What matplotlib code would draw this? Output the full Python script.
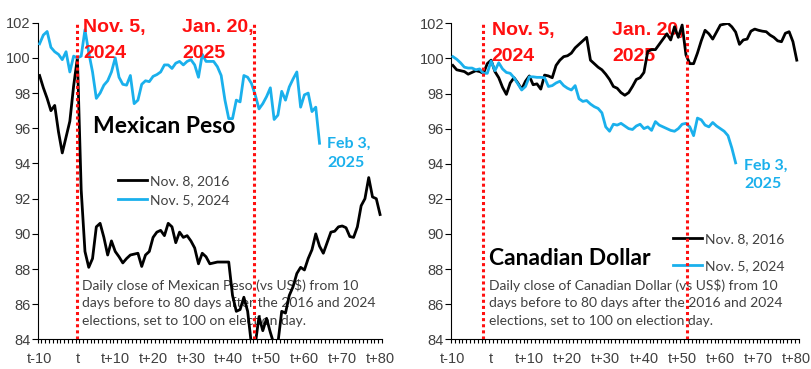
import matplotlib.pyplot as plt
import numpy as np

# x categories: t-10 ... t+80  (index 0 = t-10, index 10 = election day)
days = np.arange(91)
tick_pos = np.arange(0, 91, 10)
tick_labels = ['t-10', 't', 't+10', 't+20', 't+30', 't+40', 't+50', 't+60', 't+70', 't+80']

# Mexican peso, 2016 election (91 trading days)
mxn_2016 = [99.0, 98.3, 97.7, 97.0, 97.3, 95.8, 94.6, 95.5, 96.4, 98.4,
            100.0, 92.5, 89.0, 88.1, 88.6, 90.4, 90.6, 89.8, 88.8, 89.6,
            89.0, 88.7, 88.35, 88.6, 88.8, 88.85, 88.9, 88.15, 88.8, 89.0,
            89.8, 90.1, 90.2, 89.9, 90.6, 90.4, 89.5, 90.1, 89.8, 89.9,
            89.6, 89.2, 88.3, 88.9, 88.7, 88.3, 88.35, 88.4, 88.4, 88.4,
            88.4, 86.5, 85.6, 85.7, 86.4, 85.6, 83.7, 83.7, 85.3, 84.5,
            85.2, 84.4, 83.7, 83.8, 85.6, 85.5, 86.5, 87.0, 87.75, 88.1,
            87.95, 88.6, 89.1, 90.0, 89.3, 88.9, 89.5, 90.1, 90.15, 90.4,
            90.45, 90.35, 89.85, 89.8, 90.4, 91.6, 92.0, 93.2, 92.1, 92.0, 91.1]

# Mexican peso, 2024 election (up to Feb 3, 2025)
mxn_2024 = [100.8, 101.3, 101.5, 100.6, 100.35, 100.2, 99.9, 100.35, 99.2, 100.1,
            100.0, 100.1, 101.6, 100.3, 99.2, 97.7, 98.0, 98.45, 98.7, 99.2,
            100.0, 98.9, 98.5, 98.45, 99.0, 97.4, 97.6, 98.5, 98.7, 98.65,
            98.95, 99.05, 99.2, 99.6, 99.6, 99.4, 99.7, 99.8, 99.6, 99.8,
            99.9, 99.6, 98.9, 100.2, 99.8, 99.8, 99.8, 99.5, 99.0, 97.6,
            96.55, 96.55, 97.6, 97.5, 99.0, 98.9, 98.55, 97.9, 97.1, 97.4,
            97.8, 98.3, 96.5, 96.75, 98.1, 97.6, 98.35, 98.8, 99.2, 97.2,
            97.9, 98.0, 96.95, 97.2, 95.15]

# Canadian dollar, 2016 election
cad_2016 = [99.6, 99.35, 99.3, 99.25, 99.1, 99.2, 99.3, 99.25, 99.15, 99.7,
            99.9, 99.25, 98.9, 98.35, 97.95, 98.6, 98.9, 98.6, 98.25, 98.7,
            99.0, 98.5, 98.55, 98.25, 99.05, 99.0, 98.9, 99.6, 99.9, 100.1,
            100.15, 100.3, 100.6, 100.8, 101.0, 101.2, 99.9, 99.7, 99.5, 99.35,
            99.1, 98.8, 98.4, 98.3, 98.05, 97.9, 98.05, 98.4, 98.8, 98.9,
            99.2, 100.4, 100.5, 100.5, 100.8, 101.1, 101.4, 101.05, 101.8, 101.2,
            101.9, 100.2, 99.7, 99.7, 100.3, 101.0, 101.6, 101.4, 101.1, 101.5,
            101.9, 101.95, 102.0, 101.8, 101.5, 100.8, 101.05, 101.1, 101.55, 101.67,
            101.6, 101.55, 101.52, 101.33, 101.2, 101.0, 100.95, 101.43, 101.52, 100.95, 99.9]

# Canadian dollar, 2024 election (up to Feb 3, 2025)
cad_2024 = [100.1, 99.95, 99.75, 99.5, 99.45, 99.45, 99.35, 99.4, 99.15, 99.15,
            99.85, 99.3, 99.75, 99.4, 99.2, 99.15, 98.9, 98.55, 98.2, 98.4,
            98.95, 98.95, 98.92, 98.92, 98.9, 98.4, 98.45, 98.6, 98.7, 98.45,
            98.3, 98.2, 98.45, 97.7, 97.55, 97.6, 97.4, 97.25, 97.15, 96.9,
            96.1, 95.85, 96.25, 96.2, 96.3, 96.15, 96.0, 95.95, 96.15, 96.25,
            96.0, 96.1, 95.9, 96.4, 96.2, 96.1, 96.0, 95.9, 95.85, 96.0,
            96.25, 96.3, 96.1, 95.6, 96.6, 96.5, 96.2, 96.1, 96.35, 96.15,
            96.0, 95.85, 95.6, 94.9, 94.05]

BLUE = '#1AB0EC'
RED = '#FF1010'
GREY = '#404040'
note = "Daily close of {} (vs US$) from 10\ndays before to 80 days after the 2016 and 2024\nelections, set to 100 on election day."

fig = plt.figure(figsize=(8.12, 3.69), dpi=100)
ax1 = fig.add_axes([0.0464, 0.080, 0.424, 0.8585])
ax2 = fig.add_axes([0.5554, 0.0805, 0.4282, 0.8564])


def style(ax):
    ax.set_xlim(-0.5, 90.5)
    ax.set_ylim(84, 102)
    ax.set_yticks(np.arange(84, 103, 2))
    ax.set_xticks(tick_pos)
    ax.set_xticklabels(tick_labels)
    ax.set_xticks(np.arange(-0.5, 91, 1), minor=True)
    for s in ['top', 'right']:
        ax.spines[s].set_visible(False)
    ax.spines['left'].set_color('black')
    ax.spines['bottom'].set_color('black')
    ax.tick_params(axis='x', which='major', length=0, pad=9, labelsize=10.5,
                   labelcolor=GREY)
    ax.tick_params(axis='x', which='minor', length=3, direction='out', width=0.8)
    ax.tick_params(axis='y', length=4, pad=1, labelsize=10.5, labelcolor=GREY)
    for lab in ax.get_xticklabels() + ax.get_yticklabels():
        lab.set_fontfamily('Liberation Sans')


style(ax1)
style(ax2)

red_kw = dict(color=RED, fontsize=14, fontweight='bold', family='Liberation Sans',
              va='top', linespacing=1.7)
feb_kw = dict(color=BLUE, fontsize=11.5, fontweight='bold', family='Lato',
              va='top', linespacing=1.45, zorder=2)
note_kw = dict(fontsize=10, family='Lato', color=GREY, va='top', linespacing=1.55, zorder=2)
leg_kw = dict(loc='upper left', frameon=False, borderpad=0, borderaxespad=0,
              handlelength=2.1, handletextpad=0.2, prop={'family': 'Lato', 'size': 10})

# Mexican peso panel
ax1.plot(days, mxn_2016, color='black', lw=2, label='Nov. 8, 2016', zorder=4)
ax1.plot(days[:len(mxn_2024)], mxn_2024, color=BLUE, lw=2, label='Nov. 5, 2024', zorder=4)
for xv in [10, 56.7]:
    ax1.axvline(xv, color=RED, lw=2.2, ls=(0, (1, 1)), zorder=6)
ax1.text(11.5, 102.2, 'Nov. 5,\n2024', zorder=7, **red_kw)
ax1.text(37.7, 102.2, 'Jan. 20,\n2025', zorder=7, **red_kw)
ax1.text(14.1, 95.73, 'Mexican Peso', fontsize=16.5, fontweight='bold', family='Lato',
         va='baseline', zorder=2)
ax1.text(76.0, 95.5, 'Feb 3,\n2025', **feb_kw)
ax1.text(11.2, 87.45, note.format('Mexican Peso'), **note_kw)
leg1 = ax1.legend(bbox_to_anchor=(0.233, 0.52), labelspacing=0.5, **leg_kw)
for t in leg1.get_texts():
    t.set_color(GREY)
leg1.set_zorder(2)

# Canadian dollar panel
ax2.plot(days, cad_2016, color='black', lw=2, label='Nov. 8, 2016', zorder=4)
ax2.plot(days[:len(cad_2024)], cad_2024, color=BLUE, lw=2, label='Nov. 5, 2024', zorder=4)
for xv in [8, 61.3]:
    ax2.axvline(xv, color=RED, lw=2.2, ls=(0, (1, 1)), zorder=6)
ax2.text(10.2, 102.1, 'Nov. 5,\n2024', zorder=7, **red_kw)
ax2.text(41.7, 102.1, 'Jan. 20,\n2025', zorder=3, **red_kw)
ax2.text(9.45, 88.24, 'Canadian Dollar', fontsize=16.5, fontweight='bold', family='Lato',
         va='baseline', zorder=2)
ax2.text(76.2, 94.3, 'Feb 3,\n2025', **feb_kw)
ax2.text(9.5, 87.45, note.format('Canadian Dollar'), **note_kw)
leg2 = ax2.legend(bbox_to_anchor=(0.638, 0.336), labelspacing=1.05, **leg_kw)
for t in leg2.get_texts():
    t.set_color(GREY)
leg2.set_zorder(2)

fig.savefig('out.png', dpi=100)
